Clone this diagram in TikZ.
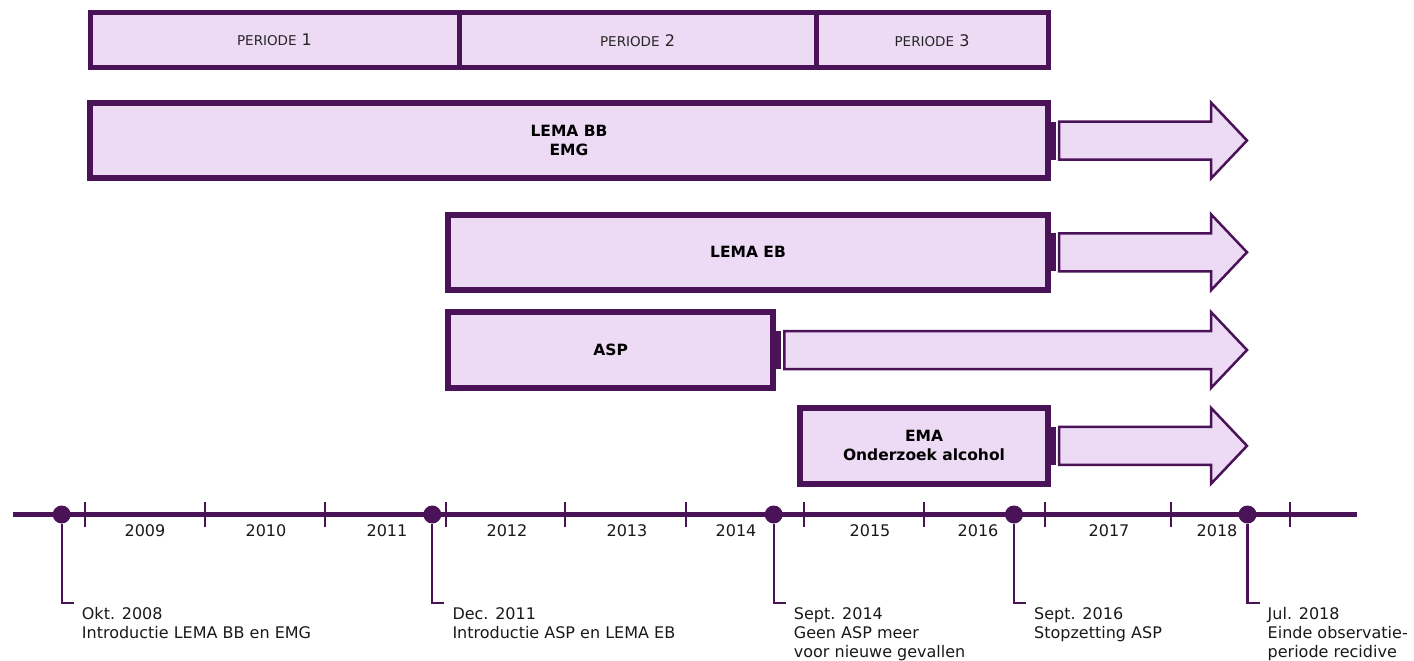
\documentclass[tikz,border=0pt]{standalone}
\usepackage{fontspec}
\setmainfont{DejaVu Sans}
\usetikzlibrary{positioning}
\definecolor{paars}{RGB}{74,19,88}
\definecolor{lila}{RGB}{237,218,245}

\begin{document}
\begin{tikzpicture}[x=1pt,y=-1pt]
\useasboundingbox (0,0) rectangle (1414,661);

% Define the style for the period bars at the top
\tikzstyle{periode}=[rectangle,minimum height=55.5pt,inner sep=0pt,outer sep=0pt,text centered,draw=paars,line width=5pt,fill=lila,text=black!85,font=\fontsize{16}{18}\selectfont]

% Define the style for the measure bars
\tikzstyle{maatregel}=[rectangle,inner sep=0pt,outer sep=0pt,align=center,draw=paars,line width=6pt,fill=lila,text=black,font=\fontsize{15.5}{19}\selectfont\bfseries]

% Define the arrow behind a measure bar
\tikzstyle{pijl}=[draw=paars,line width=2.5pt,fill=lila,line join=miter]

% Define the styles for the timeline
\tikzstyle{tijdlijn}=[draw=paars,line width=5.5pt]
\tikzstyle{streep}=[draw=paars,line width=2pt]
\tikzstyle{stip}=[circle,fill=paars,inner sep=0pt,minimum size=18pt]
\tikzstyle{lijn}=[draw=paars,line width=2.2pt]
\tikzstyle{jaar}=[inner sep=0pt,text=black!90,font=\fontsize{16}{18}\selectfont]
\tikzstyle{gebeurtenis}=[anchor=north west,inner sep=0pt,align=left,text=black!90,font=\fontsize{16}{19}\selectfont]

% define the periods
\node (per1) [periode, minimum width=369pt] at (274.5,40.25) {{\fontsize{13.5}{15}\selectfont PERIODE} 1};
\node (per2) [periode, minimum width=357pt, right=0pt of per1] {{\fontsize{13.5}{15}\selectfont PERIODE} 2};
\node (per3) [periode, minimum width=232pt, right=0pt of per2] {{\fontsize{13.5}{15}\selectfont PERIODE} 3};

% define the measures
\node (lemabb) [maatregel, minimum width=958pt, minimum height=75pt] at (569,140.5) {LEMA BB\\EMG};
\node (lemaeb) [maatregel, minimum width=600pt, minimum height=75.5pt] at (748,252.25) {LEMA EB};
\node (asp) [maatregel, minimum width=325.3pt, minimum height=76pt] at (610.65,350) {ASP};
\node (ema) [maatregel, minimum width=248pt, minimum height=75.7pt] at (924,445.85) {EMA\\Onderzoek alcohol};

% the arrows after the measures
\foreach \b/\len in {lemabb/152,lemaeb/152,asp/426.7,ema/152}{
  \fill[paars] ([yshift=19pt]\b.east) rectangle ([xshift=7.5pt,yshift=-19pt]\b.east);
  \draw[pijl] ([xshift=11pt,yshift=19pt]\b.east) -- ++(\len,0) -- ++(0,-19) -- ++(36,38)
    -- ++(-36,38) -- ++(0,-19) -- ++(-\len,0) -- cycle;
}

% define the timeline
\coordinate (begin) at (13,514.5);
\coordinate (eind) at (1357,514.5);
\draw[tijdlijn] (begin) -- (eind);
\foreach \x in {85,204.7,325.3,446,565,686,804,924,1045,1170.5,1289.5}
  \draw[streep] (\x,502) -- (\x,527);
\foreach \x/\j in {145/2009,266/2010,387/2011,507/2012,627/2013,736/2014,870/2015,978/2016,1109/2017,1217/2018}
  \node (j\j) [jaar] at (\x,531) {\j};

% define the events
\node (okt08) [stip] at (61.7,514.5) {};
\node (dec11) [stip] at (432.3,514.5) {};
\node (sep14) [stip] at (773.7,514.5) {};
\node (sep16) [stip] at (1014,514.5) {};
\node (jul18) [stip] at (1247.5,514.5) {};

\draw[lijn] (okt08) -- (okt08 |- 0,603) -- ++(12,0);
\draw[lijn] (dec11) -- (dec11 |- 0,603) -- ++(12,0);
\draw[lijn] (sep14) -- (sep14 |- 0,603) -- ++(12,0);
\draw[lijn] (sep16) -- (sep16 |- 0,603) -- ++(12,0);
\draw[lijn] (jul18) -- (jul18 |- 0,603) -- ++(12,0);

\node (tokt08) [gebeurtenis] at (81.7,607.5) {Okt. 2008\\Introductie LEMA BB en EMG};
\node (tdec11) [gebeurtenis] at (452.3,607.5) {Dec. 2011\\Introductie ASP en LEMA EB};
\node (tsep14) [gebeurtenis] at (793.7,607.5) {Sept. 2014\\Geen ASP meer\\voor nieuwe gevallen};
\node (tsep16) [gebeurtenis] at (1034,607.5) {Sept. 2016\\Stopzetting ASP};
\node (tjul18) [gebeurtenis] at (1267.5,607.5) {Jul. 2018\\Einde observatie-\\periode recidive};

\end{tikzpicture}
\end{document}
